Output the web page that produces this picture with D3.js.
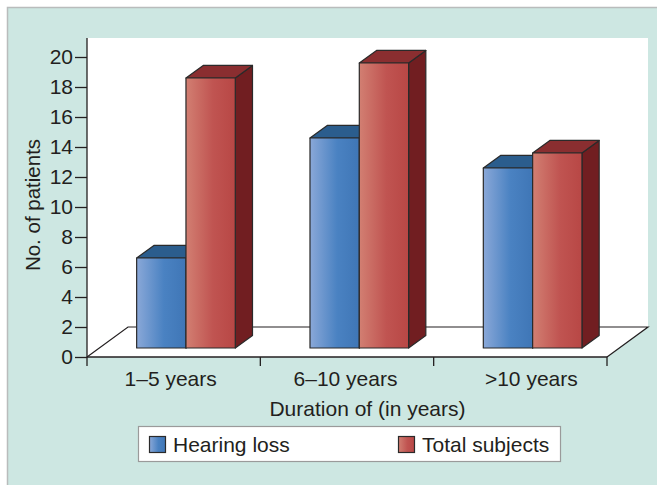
<!DOCTYPE html>
<html>
<head>
<meta charset="utf-8">
<script src="https://cdn.jsdelivr.net/npm/d3@7"></script>
<style>
  body { margin: 0; background: #fff; }
  svg text { font-family: "Liberation Sans", Arial, sans-serif; fill: #231f20; }
</style>
</head>
<body>
<svg id="chart" width="657" height="485"></svg>
<script>
// data
const categories = ["1\u20135 years", "6\u201310 years", ">10 years"];
const seriesNames = ["Hearing loss", "Total subjects"];
const hearingLoss = [6, 14, 12];
const totalSubjects = [18, 19, 13];
const yTicks = [0, 2, 4, 6, 8, 10, 12, 14, 16, 18, 20];

const svg = d3.select("#chart");
const FS = 21;

// frame + teal background
svg.append("rect").attr("x", 7.5).attr("y", 7.5).attr("width", 660).attr("height", 490)
  .attr("fill", "#cde7e2").attr("stroke", "#b9bcbc").attr("stroke-width", 1.5);

const x0 = d3.scaleBand().domain(categories).range([87, 607]);
const y = d3.scaleLinear().domain([0, 20]).range([357, 57]);

// floor depth vector (full floor) and where bars sit in it
const depth = {dx: 41, dy: -30};
const f0 = 0.3, f1 = 0.72;
const off = {dx: depth.dx * f0, dy: depth.dy * f0};
const bd = {dx: depth.dx * (f1 - f0), dy: depth.dy * (f1 - f0)};

// white plot area (wall + floor)
const x0L = 87, xR = 607, yBase = y(0);
svg.append("path")
  .attr("d", `M${x0L},38 L${xR + depth.dx},38 L${xR + depth.dx},${yBase + depth.dy} L${xR},${yBase} L${x0L},${yBase} Z`)
  .attr("fill", "#fff");

// floor lines
svg.append("path")
  .attr("d", `M${x0L},${yBase} L${x0L + depth.dx},${yBase + depth.dy} L${xR + depth.dx},${yBase + depth.dy} L${xR},${yBase}`)
  .attr("stroke", "#231f20").attr("stroke-width", 1.2).attr("fill", "none");

// gradients
const defs = svg.append("defs");
function grad(id, stops) {
  const g = defs.append("linearGradient").attr("id", id).attr("x1", "0").attr("x2", "1").attr("y1", "0").attr("y2", "0");
  stops.forEach(s => g.append("stop").attr("offset", s[0]).attr("stop-color", s[1]));
}
grad("gBlue", [[0, "#8aa8d8"], [0.55, "#4a82c2"], [1, "#3f76b6"]]);
grad("gRed", [[0, "#d27f72"], [0.55, "#c05451"], [1, "#b84745"]]);

const styles = [
  {front: "url(#gBlue)", top: "#2b5d8d", side: "#1f4670"},
  {front: "url(#gRed)", top: "#8a2e30", side: "#711e21"}
];

const bw = x0.bandwidth();
const barW = bw * 0.2845;
const x1 = d3.scaleBand().domain(seriesNames).range([bw / 2 - barW, bw / 2 + barW]);

const series = [hearingLoss, totalSubjects];
const bars = svg.append("g").attr("stroke", "#2a2a2a").attr("stroke-width", 1.2).attr("stroke-linejoin", "round");

categories.forEach((c, ci) => {
  seriesNames.forEach((s, si) => {
    const v = series[si][ci];
    const xl = x0(c) + x1(s) + off.dx;
    const xr = xl + x1.bandwidth();
    const yb = y(0) + off.dy;
    const yt = y(v) + off.dy;
    const st = styles[si];
    // side, top, front
    bars.append("path")
      .attr("d", `M${xr},${yt} L${xr + bd.dx},${yt + bd.dy} L${xr + bd.dx},${yb + bd.dy} L${xr},${yb} Z`)
      .attr("fill", st.side);
    bars.append("path")
      .attr("d", `M${xl},${yt} L${xl + bd.dx},${yt + bd.dy} L${xr + bd.dx},${yt + bd.dy} L${xr},${yt} Z`)
      .attr("fill", st.top);
    bars.append("rect")
      .attr("x", xl).attr("y", yt).attr("width", xr - xl).attr("height", yb - yt)
      .attr("fill", st.front);
  });
});

// y axis
svg.append("line").attr("x1", x0L).attr("x2", x0L).attr("y1", 38).attr("y2", yBase)
  .attr("stroke", "#231f20").attr("stroke-width", 1.3);
const yAxis = svg.append("g").attr("transform", `translate(${x0L},0)`)
  .call(d3.axisLeft(y).tickValues(yTicks).tickSize(12).tickPadding(2));
yAxis.select(".domain").remove();
yAxis.selectAll("line").attr("stroke", "#231f20").attr("stroke-width", 1.3);
yAxis.selectAll("text").attr("font-size", FS).attr("fill", "#231f20")
  .attr("font-family", "Liberation Sans, Arial, sans-serif");

// x axis
svg.append("line").attr("x1", x0L).attr("x2", xR).attr("y1", yBase).attr("y2", yBase)
  .attr("stroke", "#231f20").attr("stroke-width", 1.3);
const xTickPos = categories.map(c => x0(c)).concat([xR]);
svg.append("g").selectAll("line").data(xTickPos).join("line")
  .attr("x1", d => d).attr("x2", d => d).attr("y1", yBase).attr("y2", yBase + 9)
  .attr("stroke", "#231f20").attr("stroke-width", 1.3);
const labelShift = [-3, -1.5, 11];
svg.append("g").selectAll("text").data(categories).join("text")
  .attr("x", (d, i) => x0(d) + bw / 2 + labelShift[i]).attr("y", 385.5)
  .attr("text-anchor", "middle").attr("font-size", FS).text(d => d);

// axis titles
svg.append("text").attr("x", 367.5).attr("y", 415.5).attr("text-anchor", "middle")
  .attr("font-size", FS).text("Duration of (in years)");
svg.append("text").attr("transform", "translate(39.5,205) rotate(-90)")
  .attr("text-anchor", "middle").attr("font-size", 20.5).text("No. of patients");

// legend
const leg = svg.append("g");
leg.append("rect").attr("x", 138.5).attr("y", 426.5).attr("width", 422).attr("height", 35)
  .attr("fill", "#fff").attr("stroke", "#9a9a9a").attr("stroke-width", 1.2);
const legX = [149, 398];
seriesNames.forEach((s, i) => {
  leg.append("rect").attr("x", legX[i] + 0.5).attr("y", 436.5).attr("width", 16).attr("height", 16)
    .attr("fill", styles[i].front).attr("stroke", "#2a2a2a").attr("stroke-width", 1.2);
  leg.append("text").attr("x", legX[i] + 24).attr("y", 451.5).attr("font-size", FS).text(s);
});
</script>
</body>
</html>
